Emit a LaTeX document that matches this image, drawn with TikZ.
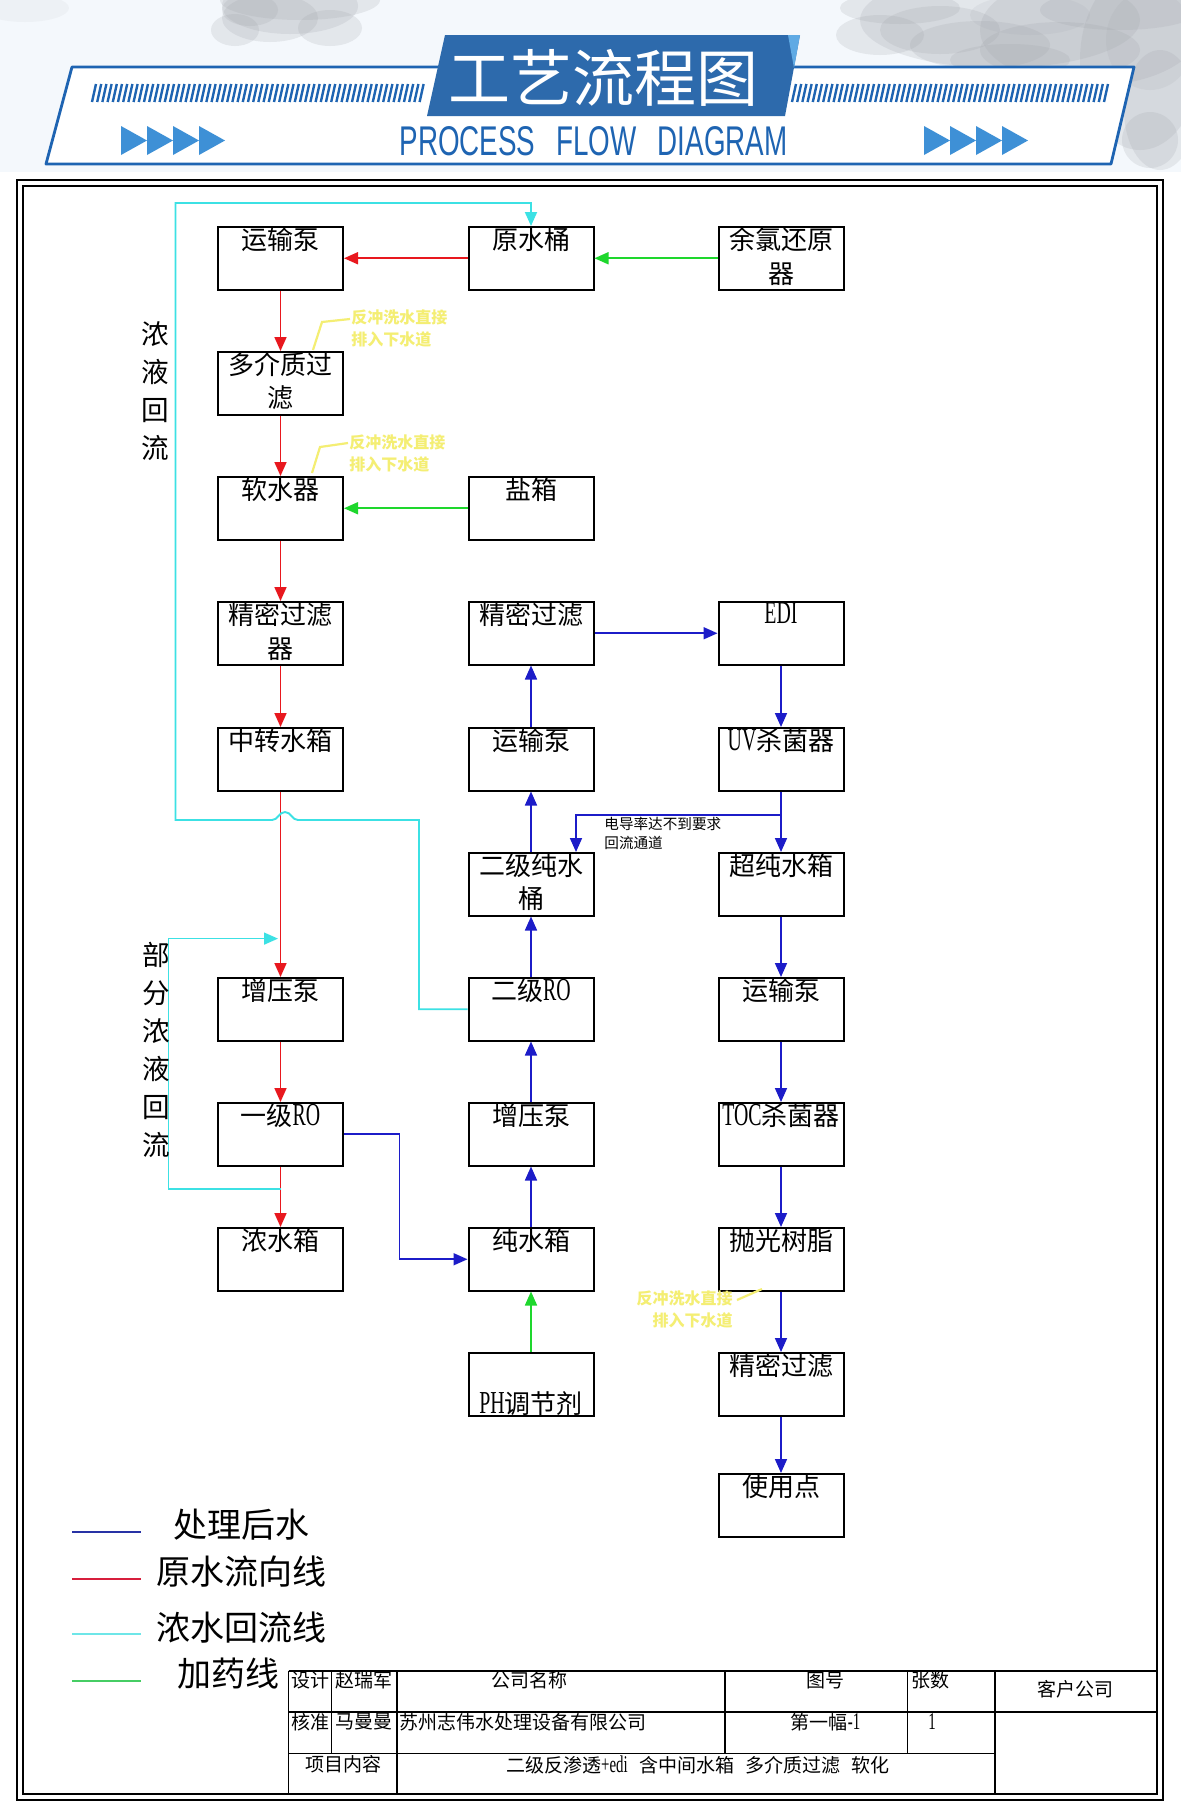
\documentclass[tikz,border=0pt]{standalone}
\usepackage{graphicx}
\usepackage{fontspec}
\usetikzlibrary{arrows.meta}
\newfontfamily\cjk{Noto Sans CJK SC}
\newfontfamily\lat[FakeStretch=0.62]{Liberation Serif}
\newfontfamily\hdr{Liberation Sans}
\definecolor{hbg}{RGB}{244,248,252}
\definecolor{hblue}{RGB}{30,100,178}
\definecolor{tblue}{RGB}{45,106,172}
\definecolor{lblue}{RGB}{95,170,228}
\definecolor{chev}{RGB}{62,144,214}
\definecolor{cred}{RGB}{232,24,30}
\definecolor{cgreen}{RGB}{30,215,45}
\definecolor{cblue}{RGB}{28,28,200}
\definecolor{ccyan}{RGB}{60,225,228}
\definecolor{nyel}{RGB}{244,238,115}
\definecolor{lgblue}{RGB}{40,50,165}
\definecolor{lgred}{RGB}{215,30,60}
\definecolor{lgcyan}{RGB}{110,230,232}
\definecolor{lggreen}{RGB}{70,205,100}
\definecolor{smudge}{RGB}{160,163,170}
\newcommand\bx[4]{%
  \node[box] (#1) at (#2,#3) {};
  \node[btxt] (#1t) at ([yshift=-0.5pt]#1.north) {#4};}
\begin{document}
\begin{tikzpicture}[x=0.5pt,y=-0.5pt,
  >={Triangle[length=7pt,width=6pt]},
  box/.style={draw=black,line width=1pt,minimum width=62.5pt,minimum height=31.25pt,inner sep=0pt,anchor=north},
  btxt/.style={anchor=north,inner sep=0pt,align=center,font=\fontsize{13pt}{16.75pt}\selectfont\cjk},
  rd/.style={draw=cred,line width=0.85pt,->},
  gn/.style={draw=cgreen,line width=0.85pt,->},
  bl/.style={draw=cblue,line width=0.85pt,->},
  cy/.style={draw=ccyan,line width=0.95pt},
  ny/.style={draw=nyel,line width=1.1pt},
  ntxt/.style={text=nyel,inner sep=0pt,font=\fontsize{8pt}{11pt}\selectfont\cjk\bfseries},
  tbl/.style={line width=0.75pt},
  ttxt/.style={anchor=north,inner sep=0pt,font=\fontsize{9.5pt}{11pt}\selectfont\cjk},
  lgt/.style={anchor=west,inner sep=0pt,font=\fontsize{17pt}{20pt}\selectfont\cjk},
  vlab/.style={inner sep=0pt,align=center,font=\fontsize{13.8pt}{19pt}\selectfont\cjk},
  smd/.style={fill=smudge,opacity=0.2}]
\useasboundingbox (0,0) rectangle (1181,1811);
\fill[white] (0,0) rectangle (1181,1811);
% ---------- header ----------
\fill[hbg] (0,0) rectangle (1181,172);
% top-left smudge
\foreach \cx/\cy/\rx/\ry in {290/6/34/14, 270/18/24/12, 235/30/12/8, 330/28/16/9, 300/0/40/10, 250/10/14/8}
  \fill[smd] (\cx,\cy) ellipse [x radius=\rx pt,y radius=\ry pt];
\fill[smudge,opacity=0.08] (25,8) ellipse [x radius=22pt,y radius=7pt];
% top-right smudge
\foreach \cx/\cy/\rx/\ry in {1000/20/70/24, 1090/30/55/28, 1140/60/30/45, 1160/110/18/30, 940/30/30/12, 880/35/22/10, 1060/50/40/14, 980/45/35/12, 1120/10/40/10, 900/8/30/8, 1150/140/14/14, 1010/60/30/8}
  \fill[smd] (\cx,\cy) ellipse [x radius=\rx pt,y radius=\ry pt];
\fill[smudge,opacity=0.14] (1150,40) ellipse [x radius=22pt,y radius=25pt];
\fill[smudge,opacity=0.12] (1030,15) ellipse [x radius=30pt,y radius=10pt];
% banner
\fill[white] (72,67) -- (1134,67) -- (1111,164) -- (46,164) -- cycle;
\draw[hblue,line width=1.4pt,line join=round] (72,67) -- (1134,67) -- (1111,164) -- (46,164) -- cycle;
\foreach \i in {0,...,63} \draw[hblue,line width=1.2pt] ({92+5.2*\i},102) -- ({96+5.2*\i},84);
\foreach \i in {0,...,60} \draw[hblue,line width=1.2pt] ({792+5.2*\i},102) -- ({796+5.2*\i},84);
\fill[tblue] (445,35) -- (800,35) -- (785,116) -- (427,116) -- cycle;
\fill[lblue] (788,35) -- (800,35) -- (794,68) -- cycle;
\node[inner sep=0pt,text=white] (ttl) at (603,78) {\resizebox{155pt}{!}{\cjk 工艺流程图}};
\node[inner sep=0pt,text=hblue] (sub) at (593.5,141.5) {\resizebox{194pt}{14.5pt}{\hdr PROCESS\hspace{0.76em}FLOW\hspace{0.76em}DIAGRAM}};
\foreach \i in {0,...,3} \fill[chev] ({121+26*\i},126) -- ({147+26*\i},140.5) -- ({121+26*\i},155) -- cycle;
\foreach \i in {0,...,3} \fill[chev] ({924+26*\i},126) -- ({950+26*\i},140.5) -- ({924+26*\i},155) -- cycle;
% ---------- frame ----------
\draw[line width=0.75pt] (17,180) rectangle (1163,1800);
\draw[line width=1pt] (23,186) rectangle (1157,1794);
% ---------- boxes ----------
\bx{a1}{280.5}{226}{运输泵}
\bx{a2}{280.5}{351}{多介质过\\滤}
\bx{a3}{280.5}{476}{软水器}
\bx{a4}{280.5}{601}{精密过滤\\器}
\bx{a5}{280.5}{727}{中转水箱}
\bx{a7}{280.5}{977}{增压泵}
\bx{a8}{280.5}{1102}{一级{\lat\fontsize{16pt}{16pt}\selectfont RO}}
\bx{a9}{280.5}{1227}{浓水箱}
\bx{b1}{531}{226}{原水桶}
\bx{b3}{531}{476}{盐箱}
\bx{b4}{531}{601}{精密过滤}
\bx{b5}{531}{727}{运输泵}
\bx{b6}{531}{852}{二级纯水\\桶}
\bx{b7}{531}{977}{二级{\lat\fontsize{16pt}{16pt}\selectfont RO}}
\bx{b8}{531}{1102}{增压泵}
\bx{b9}{531}{1227}{纯水箱}
\node[box] (b10) at (531,1352) {};
\node[btxt,anchor=south] (b10t) at ([yshift=0.5pt]b10.south) {{\lat\fontsize{16pt}{16pt}\selectfont PH}调节剂};
\bx{c1}{781}{226}{余氯还原\\器}
\bx{c4}{781}{601}{{\lat\fontsize{16pt}{16pt}\selectfont EDI}}
\bx{c5}{781}{727}{{\lat\fontsize{16pt}{16pt}\selectfont UV}杀菌器}
\bx{c6}{781}{852}{超纯水箱}
\bx{c7}{781}{977}{运输泵}
\bx{c8}{781}{1102}{{\lat\fontsize{16pt}{16pt}\selectfont TOC}杀菌器}
\bx{c9}{781}{1227}{抛光树脂}
\bx{c10}{781}{1352}{精密过滤}
\bx{c11}{781}{1473}{使用点}
% ---------- red ----------
\draw[rd] (b1.west) -- (a1.east);
\draw[rd] (a1.south) -- (a2.north);
\draw[rd] (a2.south) -- (a3.north);
\draw[rd] (a3.south) -- (a4.north);
\draw[rd] (a4.south) -- (a5.north);
\draw[rd] (a5.south) -- (a7.north);
\draw[rd] (a7.south) -- (a8.north);
\draw[rd] (a8.south) -- (a9.north);
% ---------- green ----------
\draw[gn] (c1.west) -- (b1.east);
\draw[gn] (b3.west) -- (a3.east);
\draw[gn] (b10.north) -- (b9.south);
% ---------- blue ----------
\coordinate (k5) at (399.5,1190);
\draw[bl] (a8.east) -| (k5) |- (b9.west);
\draw[bl] (b9.north) -- (b8.south);
\draw[bl] (b8.north) -- (b7.south);
\draw[bl] (b7.north) -- (b6.south);
\draw[bl] (b6.north) -- (b5.south);
\draw[bl] (b5.north) -- (b4.south);
\draw[bl] (b4.east) -- (c4.west);
\draw[bl] (c4.south) -- (c5.north);
\draw[bl] (c5.south) -- (c6.north);
\draw[bl] (c6.south) -- (c7.north);
\draw[bl] (c7.south) -- (c8.north);
\draw[bl] (c8.south) -- (c9.north);
\draw[bl] (c9.south) -- (c10.north);
\draw[bl] (c10.south) -- (c11.north);
\coordinate (fb) at (576,815);
\draw[bl] (c5.south |- fb) -| (b6.north -| fb);
\node[inner sep=0pt,anchor=north west,align=left,font=\fontsize{7.3pt}{9.5pt}\selectfont\cjk] (fbl) at (604,817) {电导率达不到要求\\回流通道};
% ---------- cyan ----------
\coordinate (k2) at (419,820);
\coordinate (k3) at (175.5,820);
\coordinate (k4) at (175.5,203);
\draw[cy,->] (b7.west) -| (k2) -- (298,820) .. controls (292,820) and (291,812) .. (285,812) .. controls (279,812) and (278,820) .. (272,820) -- (k3) -- (k4) -| (b1.north);
\coordinate (p1) at (280.5,1189);
\coordinate (p2) at (168.5,1189);
\coordinate (p3) at (168.5,938.6);
\coordinate (p4) at (278,938.6);
\draw[cy,line width=0.75pt,->] (p1) -- (p2) -- (p3) -- (p4);
% ---------- yellow notes ----------
\coordinate (y1a) at (313,350);
\coordinate (y1b) at (322,322);
\coordinate (y1c) at (350,319);
\draw[ny] (y1a) -- (y1b) -- (y1c);
\node[ntxt,anchor=north west,align=left] (n1) at (351,309) {反冲洗水直接\\排入下水道};
\coordinate (y2a) at (312,473);
\coordinate (y2b) at (320,447);
\coordinate (y2c) at (348,443);
\draw[ny] (y2a) -- (y2b) -- (y2c);
\node[ntxt,anchor=north west,align=left] (n2) at (349,434) {反冲洗水直接\\排入下水道};
\coordinate (y3a) at (737,1300);
\coordinate (y3b) at (762,1289);
\draw[ny] (y3a) -- (y3b);
\node[ntxt,anchor=north east,align=right] (n3) at (733,1290) {反冲洗水直接\\排入下水道};
% ---------- side labels ----------
\node[vlab] (v1) at (155,391) {浓\\液\\回\\流};
\node[vlab] (v2) at (156,1050) {部\\分\\浓\\液\\回\\流};
% ---------- legend ----------
\draw[lgblue,line width=1pt] (72,1532) -- (141,1532);
\draw[lgred,line width=1pt] (72,1579) -- (141,1579);
\draw[lgcyan,line width=1.2pt] (72,1634) -- (141,1634);
\draw[lggreen,line width=1.2pt] (72,1681) -- (141,1681);
\node[lgt] (l1) at (173,1525) {处理后水};
\node[lgt] (l2) at (156,1572) {原水流向线};
\node[lgt] (l3) at (156,1628) {浓水回流线};
\node[lgt] (l4) at (177,1674) {加药线};
% ---------- title block ----------
\draw[line width=1pt] (288.6,1670.5) -- (1157,1670.5);
\draw[tbl] (288.6,1712) -- (1157,1712);
\draw[tbl] (288.6,1753.7) -- (995,1753.7);
\draw[tbl] (288.6,1670.5) -- (288.6,1794);
\draw[tbl] (331.3,1670.5) -- (331.3,1753.7);
\draw[tbl] (397,1670.5) -- (397,1794);
\draw[tbl] (725,1670.5) -- (725,1753.7);
\draw[tbl] (907.5,1670.5) -- (907.5,1753.7);
\draw[tbl] (995,1670.5) -- (995,1794);
\node[ttxt] (t1) at (310,1671.5) {设计};
\node[ttxt] (t2) at (364,1671.5) {赵瑞军};
\node[ttxt] (t3) at (529,1671.5) {公司名称};
\node[ttxt] (t4) at (825.5,1671.5) {图号};
\node[ttxt] (t5) at (930,1671.5) {张数};
\node[ttxt] (t6) at (1075,1680) {客户公司};
\node[ttxt] (t7) at (310,1713) {核准};
\node[ttxt] (t8) at (364,1713) {马曼曼};
\node[ttxt,anchor=north west] (t9) at (399.5,1713) {苏州志伟水处理设备有限公司};
\node[ttxt] (t10) at (825.5,1713) {第一幅{\lat\fontsize{12pt}{12pt}\selectfont -1}};
\node[ttxt] (t11) at (932,1713) {{\lat\fontsize{12pt}{12pt}\selectfont 1}};
\node[ttxt] (t12) at (343,1755) {项目内容};
\node[ttxt] (t13) at (698,1755) {二级反渗透{\lat\fontsize{12pt}{12pt}\selectfont +edi}\hspace{0.6em}含中间水箱\hspace{0.6em}多介质过滤\hspace{0.6em}软化};
\end{tikzpicture}
\end{document}
